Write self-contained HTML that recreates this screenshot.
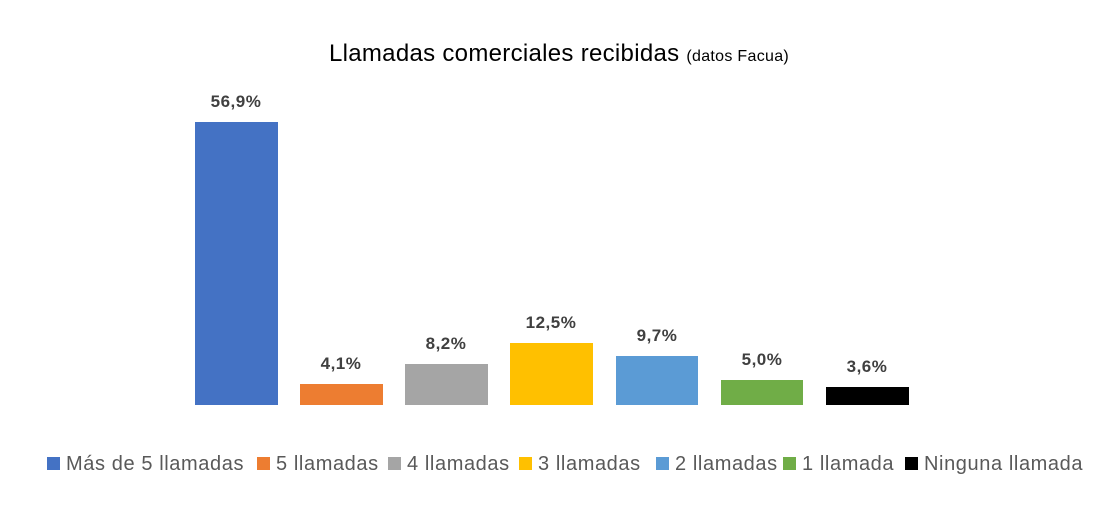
<!DOCTYPE html>
<html><head><meta charset="utf-8"><style>
body{margin:0;width:1112px;height:512px;background:#fff;position:relative;overflow:hidden;font-family:"Liberation Sans",sans-serif}
.b{position:absolute;bottom:107px}
.v{position:absolute;width:100px;text-align:center;font-weight:bold;font-size:17px;color:#404040;letter-spacing:0.5px}
.l{position:absolute;top:453px;font-size:20px;color:#595959;white-space:nowrap;letter-spacing:0.6px}
.s{display:inline-block;width:13px;height:13px;margin-right:6px;vertical-align:0px}
</style></head><body>
<div style="position:absolute;top:40px;left:0;width:1118px;text-align:center;font-size:24px;color:#000;letter-spacing:0.3px">Llamadas comerciales recibidas <span style="font-size:16px">(datos Facua)</span></div>
<div class="b" style="left:195px;width:83px;height:283px;background:#4472C4"></div>
<div class="b" style="left:300px;width:83px;height:21px;background:#ED7D31"></div>
<div class="b" style="left:405px;width:83px;height:41px;background:#A5A5A5"></div>
<div class="b" style="left:510px;width:83px;height:62px;background:#FFC000"></div>
<div class="b" style="left:616px;width:82px;height:49px;background:#5B9BD5"></div>
<div class="b" style="left:721px;width:82px;height:25px;background:#70AD47"></div>
<div class="b" style="left:826px;width:83px;height:18px;background:#000"></div>
<div class="v" style="left:186px;top:92px">56,9%</div>
<div class="v" style="left:291px;top:354px">4,1%</div>
<div class="v" style="left:396px;top:334px">8,2%</div>
<div class="v" style="left:501px;top:313px">12,5%</div>
<div class="v" style="left:607px;top:326px">9,7%</div>
<div class="v" style="left:712px;top:350px">5,0%</div>
<div class="v" style="left:817px;top:357px">3,6%</div>
<div class="l" style="left:47px"><span class="s" style="background:#4472C4"></span>Más de 5 llamadas</div>
<div class="l" style="left:257px"><span class="s" style="background:#ED7D31"></span>5 llamadas</div>
<div class="l" style="left:388px"><span class="s" style="background:#A5A5A5"></span>4 llamadas</div>
<div class="l" style="left:519px"><span class="s" style="background:#FFC000"></span>3 llamadas</div>
<div class="l" style="left:656px"><span class="s" style="background:#5B9BD5"></span>2 llamadas</div>
<div class="l" style="left:783px"><span class="s" style="background:#70AD47"></span>1 llamada</div>
<div class="l" style="left:905px"><span class="s" style="background:#000"></span>Ninguna llamada</div>
</body></html>
